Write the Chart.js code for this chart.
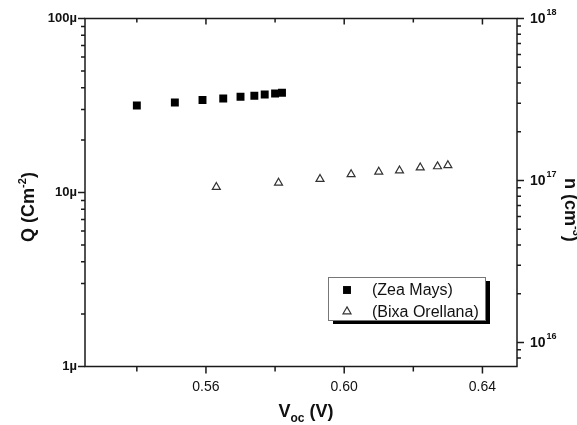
<!DOCTYPE html>
<html>
<head>
<meta charset="utf-8">
<script src="https://cdn.jsdelivr.net/npm/chart.js@4/dist/chart.umd.min.js"></script>
<style>
  body { margin: 0; background: #fff; }
  #wrap { width: 577px; height: 425px; }
</style>
</head>
<body>
<div id="wrap"><canvas id="myChart" width="577" height="425"></canvas></div>
<script>
// values
const voltZea = [0.540, 0.551, 0.559, 0.565, 0.570, 0.574, 0.577, 0.580, 0.582];
const chargeZea = [31.6e-6, 32.9e-6, 34.0e-6, 34.7e-6, 35.5e-6, 36.0e-6, 36.6e-6, 37.1e-6, 37.4e-6];
const voltBixa = [0.563, 0.581, 0.593, 0.602, 0.610, 0.616, 0.622, 0.627, 0.630];
const densityBixa = [9.1e16, 9.67e16, 1.02e17, 1.09e17, 1.13e17, 1.15e17, 1.2e17, 1.22e17, 1.24e17];

const qTickValues = [1e-6, 1e-5, 1e-4];
const qTickLabels = ['1µ', '10µ', '100µ'];
const nTickExps = [16, 17, 18];

const FONT = '"Liberation Sans", Arial, sans-serif';

function toPoints(xs, ys) {
    return xs.map((x, i) => ({ x: x, y: ys[i] }));
}

function logTicks(min, max) {
    const out = [];
    for (let e = Math.floor(Math.log10(min)); e <= Math.ceil(Math.log10(max)); e++) {
        for (let m = 1; m <= 9; m++) {
            const v = m * Math.pow(10, e);
            if (v >= min * 0.999999 && v <= max * 1.000001) out.push({ v: v, major: m === 1 });
        }
    }
    return out;
}

function isMajorX(v) {
    return Math.round(v * 100) % 4 === 0;
}

// draws sub/superscript pieces left to right from (x, y)
function drawRich(ctx, parts, x, y) {
    parts.forEach(p => {
        ctx.font = p.font;
        ctx.fillText(p.text, x, y + (p.dy || 0));
        x += ctx.measureText(p.text).width + (p.gap || 0);
    });
}

function richWidth(ctx, parts) {
    let w = 0;
    parts.forEach(p => { ctx.font = p.font; w += ctx.measureText(p.text).width + (p.gap || 0); });
    return w;
}

const framePlugin = {
    id: 'framePlugin',
    afterDraw(chart) {
        const ctx = chart.ctx;
        const area = chart.chartArea;
        const xs = chart.scales.x;
        const yl = chart.scales.yQ;
        const yr = chart.scales.yN;
        ctx.save();
        ctx.strokeStyle = '#1a1a1a';
        ctx.lineWidth = 1.5;
        ctx.strokeRect(area.left, area.top, area.right - area.left, area.bottom - area.top);

        ctx.beginPath();
        xs.ticks.forEach(t => {
            const px = xs.getPixelForValue(t.value);
            const major = isMajorX(t.value);
            ctx.moveTo(px, area.bottom);
            ctx.lineTo(px, area.bottom + (major ? 7 : 5));
            ctx.moveTo(px, area.top);
            ctx.lineTo(px, area.top + (major ? 6 : 4));
        });
        logTicks(yl.min, yl.max).forEach(t => {
            const py = yl.getPixelForValue(t.v);
            ctx.moveTo(area.left, py);
            ctx.lineTo(area.left - (t.major ? 7 : 4), py);
        });
        logTicks(yr.min, yr.max).forEach(t => {
            const py = yr.getPixelForValue(t.v);
            ctx.moveTo(area.right, py);
            ctx.lineTo(area.right + (t.major ? 7 : 4), py);
        });
        ctx.stroke();

        // right axis labels 10^n
        ctx.fillStyle = '#111';
        ctx.textAlign = 'left';
        ctx.textBaseline = 'middle';
        nTickExps.forEach(e => {
            const py = yr.getPixelForValue(Math.pow(10, e));
            drawRich(ctx, [
                { text: '10', font: 'bold 14px ' + FONT, gap: 1 },
                { text: String(e), font: 'bold 9px ' + FONT, dy: -7 }
            ], area.right + 13, py + 1);
        });

        // axis titles
        ctx.textBaseline = 'alphabetic';
        const xTitle = [
            { text: 'V', font: 'bold 18px ' + FONT },
            { text: 'oc', font: 'bold 12px ' + FONT, dy: 5 },
            { text: ' (V)', font: 'bold 18px ' + FONT }
        ];
        drawRich(ctx, xTitle, 306 - richWidth(ctx, xTitle) / 2, 417);

        const qTitle = [
            { text: 'Q (Cm', font: 'bold 18px ' + FONT },
            { text: '-2', font: 'bold 11px ' + FONT, dy: -8 },
            { text: ')', font: 'bold 18px ' + FONT }
        ];
        ctx.save();
        ctx.translate(34, 207);
        ctx.rotate(-Math.PI / 2);
        drawRich(ctx, qTitle, -richWidth(ctx, qTitle) / 2, 0);
        ctx.restore();

        const nTitle = [
            { text: 'n (cm', font: 'bold 18px ' + FONT },
            { text: '-3', font: 'bold 11px ' + FONT, dy: -8 },
            { text: ')', font: 'bold 18px ' + FONT }
        ];
        ctx.save();
        ctx.translate(565, 178);
        ctx.rotate(Math.PI / 2);
        drawRich(ctx, nTitle, 0, 0);
        ctx.restore();

        // legend with drop shadow
        const lx = 328, ly = 277, lw = 157, lh = 43;
        ctx.fillStyle = '#000';
        ctx.fillRect(lx + 5, ly + 4, lw, lh);
        ctx.fillStyle = '#fff';
        ctx.fillRect(lx, ly, lw, lh);
        ctx.strokeStyle = '#777';
        ctx.lineWidth = 1;
        ctx.strokeRect(lx + 0.5, ly + 0.5, lw, lh);
        ctx.textBaseline = 'middle';
        ctx.font = '16px ' + FONT;
        chart.data.datasets.forEach((ds, i) => {
            const cy = ly + 13 + i * 21.5;
            const cx = lx + 19;
            ctx.save();
            ctx.lineWidth = ds.borderWidth;
            ctx.strokeStyle = ds.borderColor;
            ctx.fillStyle = ds.backgroundColor;
            Chart.helpers.drawPoint(ctx, { pointStyle: ds.pointStyle, radius: ds.pointRadius, borderWidth: ds.borderWidth }, cx, cy);
            ctx.restore();
            ctx.fillStyle = '#111';
            ctx.fillText(ds.label, lx + 44, cy + 1);
        });
        ctx.restore();
    }
};

const ctx = document.getElementById('myChart').getContext('2d');
const myChart = new Chart(ctx, {
    type: 'scatter',
    data: {
        datasets: [{
            label: '(Zea Mays)',
            data: toPoints(voltZea, chargeZea),
            yAxisID: 'yQ',
            pointStyle: 'rect',
            pointRadius: 5.6,
            backgroundColor: '#000',
            borderColor: '#000',
            borderWidth: 0
        }, {
            label: '(Bixa Orellana)',
            data: toPoints(voltBixa, densityBixa),
            yAxisID: 'yN',
            pointStyle: 'triangle',
            pointRadius: 4.6,
            backgroundColor: 'rgba(255,255,255,0)',
            borderColor: '#333',
            borderWidth: 1.2
        }]
    },
    options: {
        responsive: false,
        animation: false,
        events: [],
        layout: { padding: { top: 18.5 } },
        plugins: { legend: { display: false }, tooltip: { enabled: false } },
        scales: {
            x: {
                type: 'linear',
                min: 0.525,
                max: 0.65,
                grid: { display: false, drawTicks: false },
                border: { display: false },
                ticks: {
                    stepSize: 0.02,
                    includeBounds: false,
                    autoSkip: false,
                    maxRotation: 0,
                    padding: 12,
                    color: '#111',
                    font: { family: FONT, size: 14 },
                    callback: v => isMajorX(v) ? v.toFixed(2) : ''
                },
                afterFit: s => { s.height = 58.5; }
            },
            yQ: {
                type: 'logarithmic',
                position: 'left',
                min: 1e-6,
                max: 1e-4,
                grid: { display: false, drawTicks: false },
                border: { display: false },
                ticks: {
                    autoSkip: false,
                    padding: 8,
                    color: '#111',
                    font: { family: FONT, size: 13, weight: 'bold' },
                    callback: v => {
                        const i = qTickValues.findIndex(q => Math.abs(q - v) / q < 1e-6);
                        return i >= 0 ? qTickLabels[i] : '';
                    }
                },
                afterFit: s => { s.width = 85; }
            },
            yN: {
                type: 'logarithmic',
                position: 'right',
                min: 7.1e15,
                max: 1e18,
                grid: { display: false, drawTicks: false },
                border: { display: false },
                ticks: { display: false },
                afterFit: s => { s.width = 60; }
            }
        }
    },
    plugins: [framePlugin]
});
</script>
</body>
</html>
